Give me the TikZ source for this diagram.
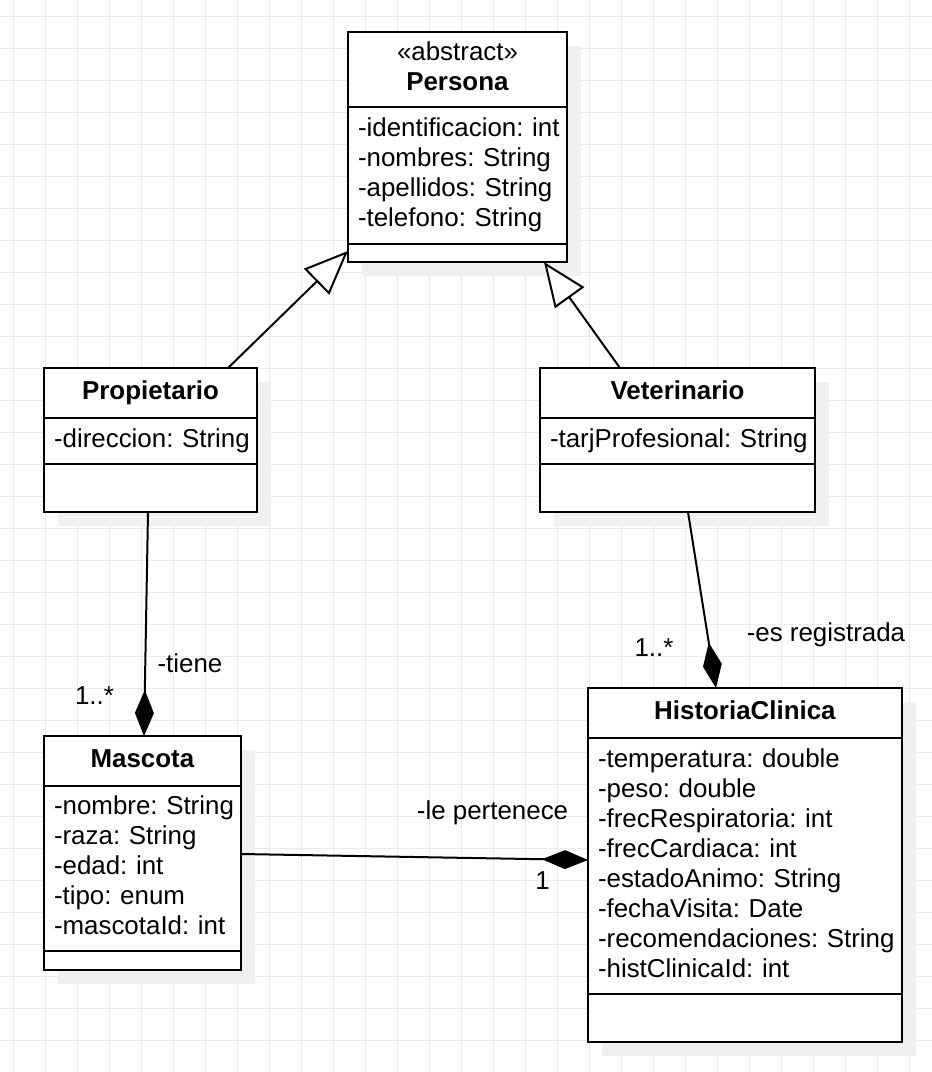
\documentclass[tikz,border=0pt]{standalone}
\usepackage{fontspec}
\setmainfont{Liberation Sans}
\usepackage{tikz}
\usetikzlibrary{positioning, arrows.meta, shadows}
\newcommand{\umlfont}{\fontsize{25.9pt}{30pt}\selectfont}
\newcommand{\umlstrut}{\exhyphenpenalty=10000 \hyphenpenalty=10000 \rule[-9pt]{0pt}{30pt}}
\tikzstyle{umlbox} = [rectangle, draw=black, line width=2pt, fill=white, outer sep=0pt, inner xsep=10pt, inner ysep=0pt, font=\umlfont, drop shadow={shadow xshift=14pt, shadow yshift=-14pt, fill=black!6, opacity=1}]
\tikzstyle{umlhead} = [umlbox, align=center, minimum height=50pt, execute at begin node=\umlstrut, execute at end node=\umlstrut]
\tikzstyle{umlattr} = [umlbox, align=left, execute at begin node=\umlstrut, execute at end node=\umlstrut]
\tikzstyle{umlmeth} = [umlbox, minimum height=48pt]
\tikzstyle{inherit} = [line width=2pt, -{Triangle[open, fill=white, length=44pt, width=36pt]}]
\tikzstyle{compose} = [line width=2pt, -{Diamond[length=46pt, width=19pt]}]
\tikzstyle{rolelabel} = [font=\umlfont, inner sep=0pt]
\tikzstyle{gridline} = [draw=black!8, line width=1pt]

\begin{document}
\begin{tikzpicture}[x=1pt, y=-1pt]
    \fill[white] (0,0) rectangle (932,1072);
    \useasboundingbox (0,0) rectangle (932,1072);
    % grid
    \foreach \gx in {13,45,...,909}
        \draw [gridline] (\gx,0) -- (\gx,1072);
    \foreach \gy in {16,48,...,1072}
        \draw [gridline] (0,\gy) -- (932,\gy);

    \node (perHead) [umlhead, anchor=north west, text width=199pt, minimum height=75pt] at (348,32) {«abstract»\\\textbf{Persona}};
    \node (perAttr) [umlattr, below=0pt of perHead, text width=199pt, minimum height=137pt] {-identificacion:~int\\-nombres:~String\\-apellidos:~String\\-telefono:~String};
    \node (perMeth) [umlmeth, below=0pt of perAttr, minimum width=219pt, minimum height=18pt] {};

    \node (propHead) [umlhead, anchor=north west, text width=193pt] at (44,368) {\textbf{Propietario}};
    \node (propAttr) [umlattr, below=0pt of propHead, text width=193pt, minimum height=46pt] {-direccion:~String};
    \node (propMeth) [umlmeth, below=0pt of propAttr, minimum width=213pt] {};

    \node (vetHead) [umlhead, anchor=north west, text width=255pt] at (540,368) {\textbf{Veterinario}};
    \node (vetAttr) [umlattr, below=0pt of vetHead, text width=255pt, minimum height=46pt] {-tarjProfesional:~String};
    \node (vetMeth) [umlmeth, below=0pt of vetAttr, minimum width=275pt] {};

    \node (masHead) [umlhead, anchor=north west, text width=177pt] at (44,736) {\textbf{Mascota}};
    \node (masAttr) [umlattr, below=0pt of masHead, text width=177pt, minimum height=165pt] {-nombre:~String\\-raza:~String\\-edad:~int\\-tipo:~enum\\-mascotaId:~int};
    \node (masMeth) [umlmeth, below=0pt of masAttr, minimum width=197pt, minimum height=19pt] {};

    \node (hcHead) [umlhead, anchor=north west, text width=294pt] at (588,688) {\textbf{HistoriaClinica}};
    \node (hcAttr) [umlattr, below=0pt of hcHead, text width=294pt, minimum height=256pt] {-temperatura:~double\\-peso:~double\\-frecRespiratoria:~int\\-frecCardiaca:~int\\-estadoAnimo:~String\\-fechaVisita:~Date\\-recomendaciones:~String\\-histClinicaId:~int};
    \node (hcMeth) [umlmeth, below=0pt of hcAttr, minimum width=314pt] {};

    \draw [inherit] ([xshift=77.5pt]propHead.north) -- ([yshift=2pt]perMeth.west);
    \draw [inherit] ([xshift=-57.5pt]vetHead.north) -- ([xshift=86.5pt]perMeth.south);
    \draw [compose] ([xshift=-2.5pt]propMeth.south) -- node[rolelabel, pos=0.676, xshift=44.7pt] (tieneLbl) {-tiene} node[rolelabel, pos=0.82, xshift=-50.2pt] (tieneMult) {1..*} ([xshift=1.5pt]masHead.north);
    \draw [compose] ([xshift=10.5pt]vetMeth.south) -- node[rolelabel, pos=0.699, xshift=118.4pt] (regLbl) {-es registrada} node[rolelabel, pos=0.772, xshift=-55.6pt] (regMult) {1..*} ([xshift=-29pt]hcHead.north);
    \draw [compose] ([yshift=14.5pt]masAttr.east) -- node[rolelabel, pos=0.725, yshift=45.8pt] (pertLbl) {-le pertenece} node[rolelabel, pos=0.869, yshift=-21.5pt] (pertMult) {1} ([yshift=6pt]hcAttr.west);

\end{tikzpicture}
\end{document}
